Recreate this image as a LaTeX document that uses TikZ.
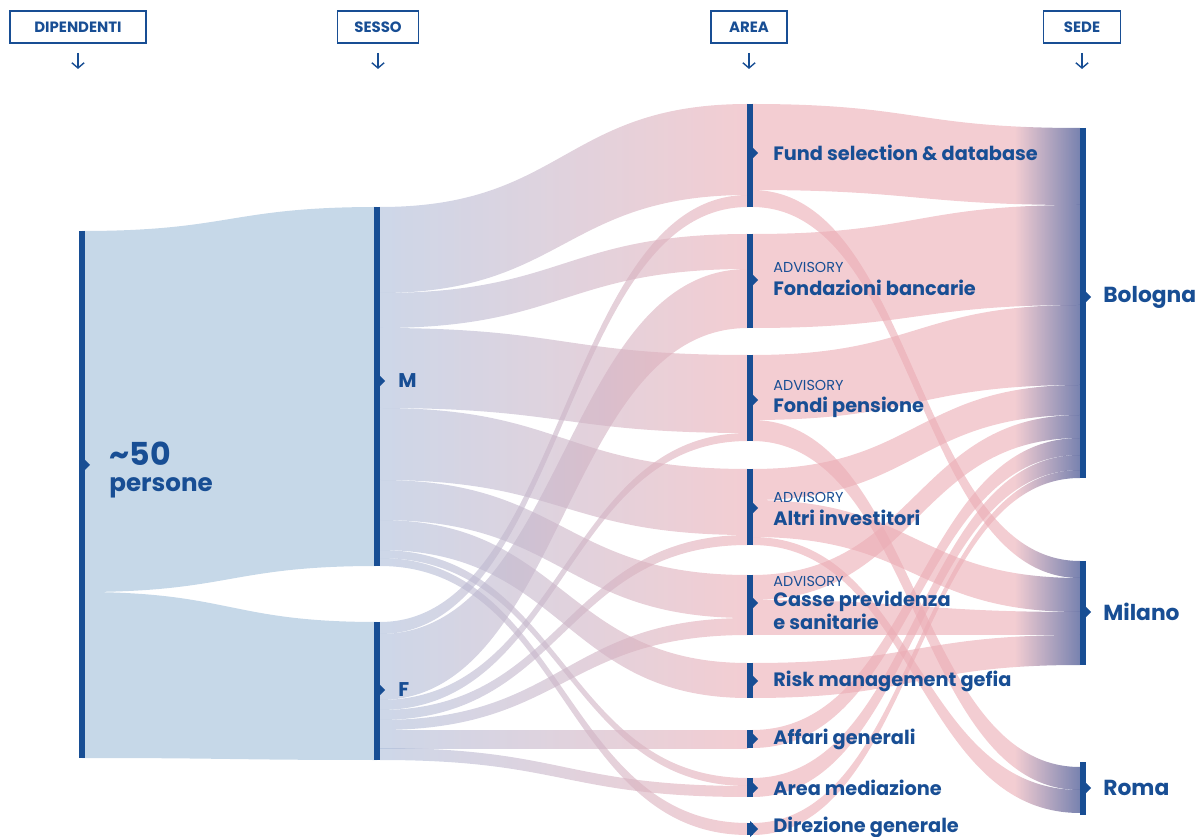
\documentclass[tikz,border=0pt]{standalone}
\usepackage{fontspec}
\setmainfont{Poppins}
\usetikzlibrary{arrows.meta}
\definecolor{navy}{RGB}{24,78,148}
\definecolor{staffblue}{RGB}{198,216,232}
\definecolor{sexblue}{RGB}{172,188,217}
\definecolor{areapink}{RGB}{235,172,180}
\definecolor{sedeblue}{RGB}{30,47,122}
\pgfdeclarehorizontalshading{sedeshade}{100bp}{color(0bp)=(areapink); color(25bp)=(areapink); color(65bp)=(areapink); color(75bp)=(sedeblue); color(100bp)=(sedeblue)}
\tikzset{
  colbar/.style={navy, line width=3.4pt},
  hdrbox/.style={draw=navy, line width=1.1pt, text=navy, inner sep=0pt, minimum height=0.64cm, font=\fontsize{8.5}{10}\selectfont\bfseries},
  hdrarrow/.style={navy, line width=0.8pt, -{Straight Barb[length=3pt,width=7pt]}},
  lbl/.style={anchor=west, align=left, inner sep=0pt, text=navy, font=\fontsize{11}{13}\selectfont\bfseries},
  sedelbl/.style={lbl, font=\fontsize{12.4}{14}\selectfont\bfseries},
  sexflow/.style={left color=sexblue, right color=areapink, opacity=0.6},
  sedeflow/.style={shading=sedeshade, opacity=0.6}
}
\newcommand{\advs}[1]{{\fontsize{8.2}{10}\selectfont\mdseries #1}}
\begin{document}
\begin{tikzpicture}[x=0.02cm, y=-0.02cm]
	\useasboundingbox (0,0) rectangle (1204,837);
	% dipendenti -> sesso
	\fill[staffblue] (82,231) .. controls (230,231) and (230,207) .. (377,207) -- (377,566) .. controls (230,566) and (230,592) .. (82,592) -- cycle;
	\fill[staffblue] (82,592) .. controls (230,592) and (230,622) .. (377,622) -- (377,760) .. controls (230,760) and (230,758) .. (82,758) -- cycle;
	% sesso -> area
	\foreach \ya/\yb/\yc/\yd in {207/293/104/195, 293/328/234/269, 328/408/355/433, 408/480/469/535,
		480/520/575/618, 520/550/663/698, 550/558/778/786, 558/566/823/835,
		622/634/195/207, 634/700/269/328, 700/710/433/441, 710/720/535/545,
		720/730/618/635, 730/748/730/748, 748/760/786/797}{
		\shade[sexflow] (380,\ya) .. controls (564,\ya) and (564,\yc) .. (748,\yc) -- (748,\yd) .. controls (564,\yd) and (564,\yb) .. (380,\yb) -- cycle;
	}
	% area -> sede
	\foreach \ya/\yb/\yc/\yd in {104/190/128/205, 190/207/561/578, 234/328/205/305, 355/420/305/385,
		420/441/767/790, 469/500/385/415, 500/537/578/612, 537/545/790/813,
		575/600/415/438, 600/635/612/635, 663/698/635/665, 730/748/438/455,
		778/797/455/470, 823/835/470/478}{
		\shade[sedeflow] (752,\ya) .. controls (916,\ya) and (916,\yc) .. (1080,\yc) -- (1080,\yd) .. controls (916,\yd) and (916,\yb) .. (752,\yb) -- cycle;
	}
	% bars with their markers
	\foreach \x/\ya/\yb/\ym in {82/231/758/465, 377/207/566/381, 377/622/760/690,
		750/104/207/153, 750/234/328/280, 750/355/441/400, 750/469/545/508, 750/575/635/603,
		750/663/698/681, 750/730/748/739, 750/778/797/788, 750/823/835/829,
		1083/128/478/297, 1083/561/665/612, 1083/762/815/788}{
		\draw[colbar] (\x,\ya) -- (\x,\yb);
		\fill[navy] (\x,\ym-8) -- (\x+8,\ym) -- (\x,\ym+8) -- cycle;
	}
	% headers
	\node[hdrbox, minimum width=2.72cm] (hdip) at (78,27) {DIPENDENTI};
	\node[hdrbox, minimum width=1.62cm] (hsex) at (378,27) {SESSO};
	\node[hdrbox, minimum width=1.52cm] (harea) at (749,27) {AREA};
	\node[hdrbox, minimum width=1.54cm] (hsede) at (1082,27) {SEDE};
	\foreach \h in {hdip,hsex,harea,hsede}{
		\draw[hdrarrow] (\h.south) ++(0,9) -- ++(0,16);
	}
	% labels
	\node[lbl] (tot) at (109,470) {{\fontsize{18}{16}\selectfont\textasciitilde 50}\\[1.5pt]{\fontsize{14}{14}\selectfont persone}};
	\node[lbl, font=\fontsize{11.3}{13}\selectfont\bfseries] (men) at (398,381) {M};
	\node[lbl, font=\fontsize{11.3}{13}\selectfont\bfseries] (women) at (398,690) {F};
	\node[lbl] (fund) at (773,153) {Fund selection \& database};
	\node[lbl] (fondaz) at (773,279) {\advs{ADVISORY}\\Fondazioni bancarie};
	\node[lbl] (fondi) at (773,399) {\advs{ADVISORY}\\Fondi pensione};
	\node[lbl] (altri) at (773,509) {\advs{ADVISORY}\\Altri investitori};
	\node[lbl, font=\fontsize{11}{11.5}\selectfont\bfseries] (casse) at (773,603) {\advs{ADVISORY}\\Casse previdenza\\e sanitarie};
	\node[lbl] (risk) at (773,681) {Risk management gefia};
	\node[lbl] (affari) at (773,739) {Affari generali};
	\node[lbl] (mediaz) at (773,788) {Area mediazione};
	\node[lbl] (direz) at (773,827) {Direzione generale};
	\node[sedelbl] (bologna) at (1103,297) {Bologna};
	\node[sedelbl] (milano) at (1103,612) {Milano};
	\node[sedelbl] (roma) at (1103,788) {Roma};
\end{tikzpicture}
\end{document}
